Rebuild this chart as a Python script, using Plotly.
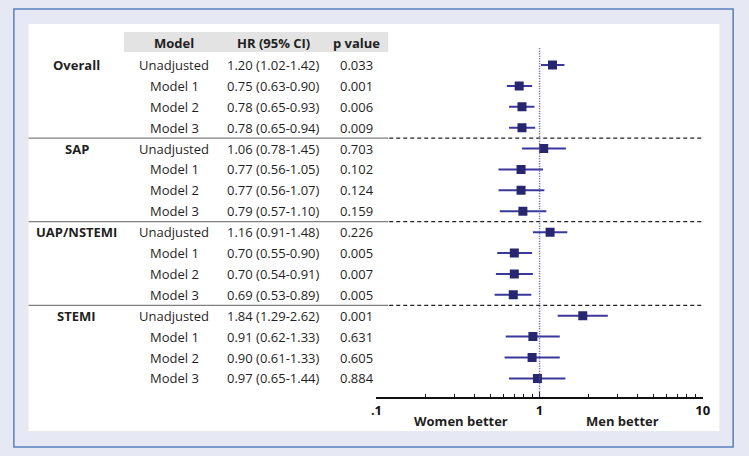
import plotly.graph_objects as go

# ---------------- data ----------------
groups = ["Overall", "SAP", "UAP/NSTEMI", "STEMI"]
models = ["Unadjusted", "Model 1", "Model 2", "Model 3"]
hr = [1.20, 0.75, 0.78, 0.78,
      1.06, 0.77, 0.77, 0.79,
      1.16, 0.70, 0.70, 0.69,
      1.84, 0.91, 0.90, 0.97]
ci_lo = [1.02, 0.63, 0.65, 0.65,
         0.78, 0.56, 0.56, 0.57,
         0.91, 0.55, 0.54, 0.53,
         1.29, 0.62, 0.61, 0.65]
ci_hi = [1.42, 0.90, 0.93, 0.94,
         1.45, 1.05, 1.07, 1.10,
         1.48, 0.90, 0.91, 0.89,
         2.62, 1.33, 1.33, 1.44]
pvals = ["0.033", "0.001", "0.006", "0.009",
         "0.703", "0.102", "0.124", "0.159",
         "0.226", "0.005", "0.007", "0.005",
         "0.001", "0.631", "0.605", "0.884"]
headers = ["Model", "HR (95% CI)", "p value"]
tick_vals = [0.1, 1, 10]
tick_text = [".1", "1", "10"]
minor_vals = [0.2, 0.3, 0.4, 0.5, 0.6, 0.7, 0.8, 0.9, 2, 3, 4, 5, 6, 7, 8, 9]

W, H = 749, 456
FONT = "'Open Sans', Lato, sans-serif"
FS = 13
TXT = "#1f1f1f"
n = len(hr)
rows = [-i for i in range(n)]  # row positions on the y axis

def px(x):
    return x / W

def py(y):
    return 1 - y / H

fig = go.Figure()

fig.add_trace(go.Scatter(
    x=hr, y=rows, mode="markers",
    marker=dict(symbol="square", size=9, color="#27266f"),
    error_x=dict(type="data", symmetric=False,
                 array=[h - v for h, v in zip(ci_hi, hr)],
                 arrayminus=[v - l for v, l in zip(hr, ci_lo)],
                 color="#3a389a", thickness=2, width=0),
    showlegend=False, hoverinfo="skip"))

shapes = []
# outer frame & white panel
shapes.append(dict(type="rect", xref="paper", yref="paper",
                   x0=px(8), x1=px(740), y0=py(447), y1=py(9),
                   line=dict(color="#5b7fbf", width=1.5), fillcolor="#e6e9f4", layer="below"))
shapes.append(dict(type="rect", xref="paper", yref="paper",
                   x0=px(23), x1=px(726), y0=py(431), y1=py(24),
                   line=dict(width=0), fillcolor="white", layer="below"))
# header band
shapes.append(dict(type="rect", xref="paper", yref="paper",
                   x0=px(120), x1=px(389), y0=py(52), y1=py(32),
                   line=dict(width=0), fillcolor="#e3e3e3", layer="below"))
# group separators
for k in range(1, len(groups)):
    yv = -(4 * k - 0.5)
    shapes.append(dict(type="line", xref="paper", yref="y",
                       x0=px(23), x1=px(389), y0=yv, y1=yv,
                       line=dict(color="#7f7f7f", width=1.2)))
    shapes.append(dict(type="line", xref="paper", yref="y",
                       x0=px(390), x1=px(710), y0=yv, y1=yv,
                       line=dict(color="#222222", width=1.2, dash="4px,3px")))
# reference line at HR = 1
shapes.append(dict(type="line", xref="x", yref="y",
                   x0=1, x1=1, y0=0.8, y1=-15.9,
                   line=dict(color="#5050b4", width=1.5, dash="1px,1.5px")))

annotations = []
col_x = [171, 272, 357]
for cx, t in zip(col_x, headers):
    annotations.append(dict(x=px(cx), y=1.05, xref="paper", yref="y", text="<b>%s</b>" % t,
                            showarrow=False, font=dict(family=FONT, size=FS, color=TXT),
                            xanchor="center", yanchor="middle"))
for gi, g in enumerate(groups):
    annotations.append(dict(x=px(72), y=-4 * gi, xref="paper", yref="y", text="<b>%s</b>" % g,
                            showarrow=False, font=dict(family=FONT, size=FS, color=TXT),
                            xanchor="center", yanchor="middle"))
for i in range(n):
    txt = [models[i % 4], "%.2f (%.2f-%.2f)" % (hr[i], ci_lo[i], ci_hi[i]), pvals[i]]
    for cx, t in zip(col_x, txt):
        annotations.append(dict(x=px(cx), y=rows[i], xref="paper", yref="y", text=t,
                                showarrow=False, font=dict(family=FONT, size=FS, color=TXT),
                                xanchor="center", yanchor="middle"))
annotations.append(dict(x=px(463), y=py(421), xref="paper", yref="paper", text="<b>Women better</b>",
                        showarrow=False, font=dict(family=FONT, size=FS, color=TXT),
                        xanchor="center", yanchor="middle"))
annotations.append(dict(x=px(627), y=py(421), xref="paper", yref="paper", text="<b>Men better</b>",
                        showarrow=False, font=dict(family=FONT, size=FS, color=TXT),
                        xanchor="center", yanchor="middle"))

fig.update_layout(
    width=W, height=H, margin=dict(l=0, r=0, t=0, b=0),
    paper_bgcolor="#e6e9f4", plot_bgcolor="rgba(0,0,0,0)",
    shapes=shapes, annotations=annotations,
    xaxis=dict(type="log", range=[-1, 1], domain=[px(377), px(709)], anchor="y",
               tickvals=tick_vals, ticktext=tick_text, ticks="inside", ticklen=5,
               tickwidth=1.5, tickcolor="#111111", showline=True, linecolor="#111111", linewidth=2,
               showgrid=False, zeroline=False,
               tickfont=dict(family=FONT, size=13, color="#111111", weight="bold"),
               minor=dict(tickvals=minor_vals, ticks="inside", ticklen=3, tickcolor="#111111",
                          tickwidth=1, showgrid=False)),
    yaxis=dict(range=[-15.89, 1.58], domain=[py(397), py(32)], showticklabels=False,
               showline=False, ticks="", showgrid=False, zeroline=False, fixedrange=True),
)

fig.write_html("out.html", config={"displayModeBar": False, "staticPlot": True},
               post_script="document.body.style.margin='0';")
